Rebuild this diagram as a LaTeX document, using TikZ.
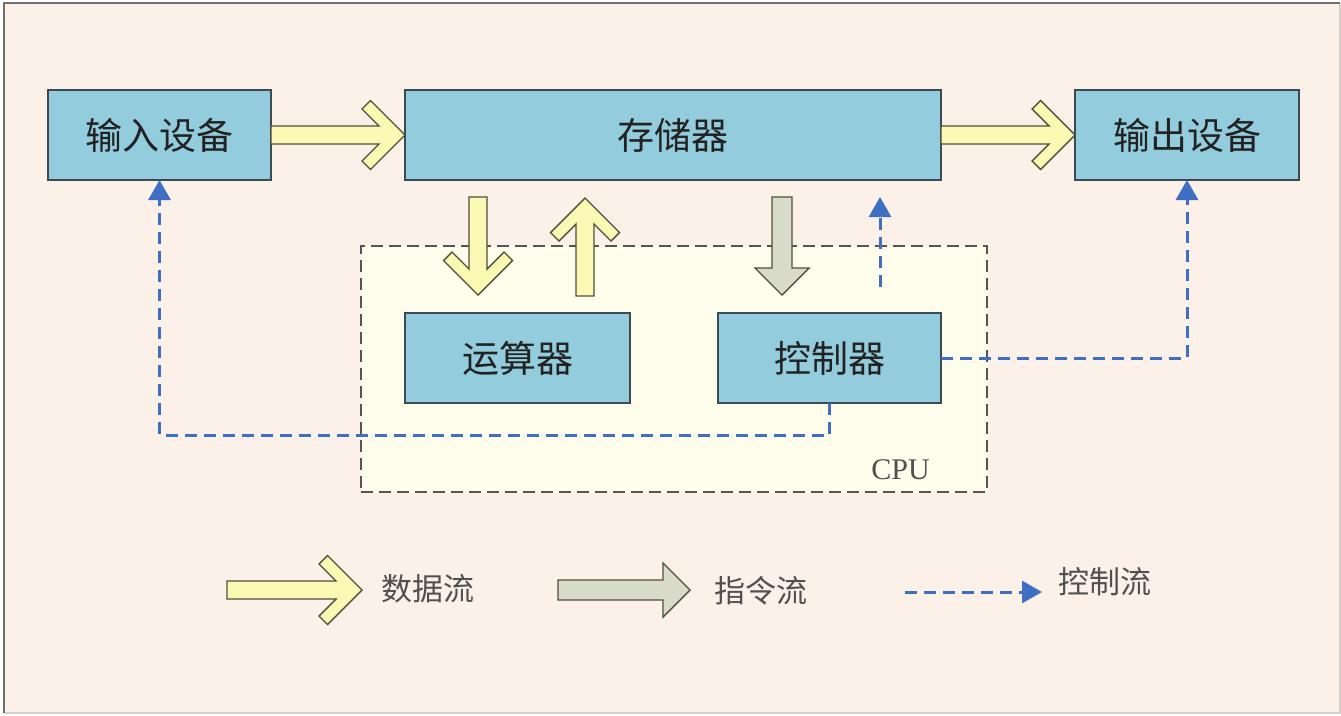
\documentclass[tikz,border=0pt]{standalone}
\usepackage{fontspec}
\usepackage{tikz}
\usetikzlibrary{positioning,arrows.meta,calc}
\setmainfont{Noto Sans CJK SC}
\newfontfamily\cpufont{Liberation Serif}
\definecolor{PaperPeach}{HTML}{FBF1E8}
\definecolor{FrameGray}{HTML}{707070}
\definecolor{FrameLight}{HTML}{D6D0CA}
\definecolor{UnitBlue}{HTML}{93CDDD}
\definecolor{UnitEdge}{HTML}{3C4A54}
\definecolor{CpuCream}{HTML}{FEFCEA}
\definecolor{CpuEdge}{HTML}{555555}
\definecolor{DataYellow}{HTML}{FAF8B2}
\definecolor{InstrGray}{HTML}{D8DACA}
\definecolor{ArrowEdge}{HTML}{4F4F3A}
\definecolor{CtrlBlue}{HTML}{3F6FC4}
\definecolor{TextDark}{HTML}{222222}
\definecolor{TextGray}{HTML}{505050}

\tikzset{
  unitbox/.style={draw=UnitEdge, line width=2pt, fill=UnitBlue, minimum height=90pt,
    inner sep=0pt, outer sep=0pt, text=TextDark, font=\fontsize{37}{42}\selectfont},
  cpubox/.style={draw=CpuEdge, dash pattern=on 12pt off 6pt, line width=1.6pt,
    fill=CpuCream, inner sep=0pt, outer sep=0pt},
  ctrlflow/.style={draw=CtrlBlue, line width=3pt, dash pattern=on 12pt off 7pt,
    -{Triangle[length=20pt,width=22pt]}},
  legendtext/.style={text=TextGray, font=\fontsize{31}{34}\selectfont, anchor=west,
    inner sep=0pt},
  pics/dataflow/.style={code={
    \draw[draw=ArrowEdge, line width=1.4pt, fill=DataYellow]
      (0,-9) -- ({#1-26},-9) -- ({#1-43},-26) -- ({#1-34.5},-34.5) -- (#1,0)
      -- ({#1-34.5},34.5) -- ({#1-43},26) -- ({#1-26},9) -- (0,9) -- cycle;
  }},
  pics/instrflow/.style={code={
    \draw[draw=ArrowEdge, line width=1.4pt, fill=InstrGray]
      (0,-10) -- ({#1-27},-10) -- ({#1-27},-27) -- (#1,0)
      -- ({#1-27},27) -- ({#1-27},10) -- (0,10) -- cycle;
  }},
}

\begin{document}
\begin{tikzpicture}[x=1pt, y=-1pt]
  \useasboundingbox (0,0) rectangle (1341,715);
  \fill[white] (0,0) rectangle (1341,715);
  \fill[PaperPeach] (4,3) rectangle (1340,713);
  \draw[FrameLight, line width=1.5pt] (1340,3) -- (1340,713) -- (4,713);
  \draw[FrameGray, line width=2pt] (4,713) -- (4,3) -- (1340,3);

  % CPU frame
  \node[cpubox, minimum width=626pt, minimum height=246pt] (cpu) at (674,369) {};
  \node[anchor=south east, inner sep=0pt, text=TextGray,
        font=\cpufont\fontsize{30}{32}\selectfont]
    (cpulabel) at ([xshift=-57pt, yshift=12pt]cpu.south east) {CPU};

  % units
  \node[unitbox, minimum width=223pt] (in) at (159.5,135) {输入设备};
  \node[unitbox, minimum width=536pt, right=134pt of in] (mem) {存储器};
  \node[unitbox, minimum width=224pt, right=134pt of mem] (out) {输出设备};
  \node[unitbox, minimum width=225pt, anchor=north west]
    (alu) at ([yshift=-133pt]mem.south west) {运算器};
  \node[unitbox, minimum width=223pt, anchor=north east]
    (ctrl) at ([yshift=-133pt]mem.south east) {控制器};

  % data flow
  \pic at (in.east) {dataflow=134};
  \pic at (mem.east) {dataflow=134};
  \pic[rotate=-90] at ([xshift=-39.5pt, yshift=-17pt]alu.north |- mem.south) {dataflow=98};
  \pic[rotate=90] at ([xshift=67.5pt, yshift=17pt]alu.north) {dataflow=98};

  % instruction flow
  \pic[rotate=-90] at ([xshift=-47.5pt, yshift=-17pt]ctrl.north |- mem.south) {instrflow=98};

  % control flow
  \coordinate (ctrlup) at ([xshift=50.5pt, yshift=26pt]ctrl.north);
  \coordinate (memlow) at ([yshift=-17pt]ctrlup |- mem.south);
  \draw[ctrlflow] (ctrl.south) -- ++(0,32) -| (in.south);
  \draw[ctrlflow] (ctrl.east) -| (out.south);
  \draw[ctrlflow] (ctrlup) -- (memlow);

  % legend
  \pic at (227,590) {dataflow=135};
  \node[legendtext] (datalabel) at (381,589) {数据流};
  \pic at (558,590) {instrflow=132};
  \node[legendtext] (instrlabel) at (714,591) {指令流};
  \coordinate (ctrlkeyA) at (905,592);
  \coordinate (ctrlkeyB) at (1042,592);
  \draw[ctrlflow] (ctrlkeyA) -- (ctrlkeyB);
  \node[legendtext] (ctrllabel) at (1058,582) {控制流};
\end{tikzpicture}
\end{document}
